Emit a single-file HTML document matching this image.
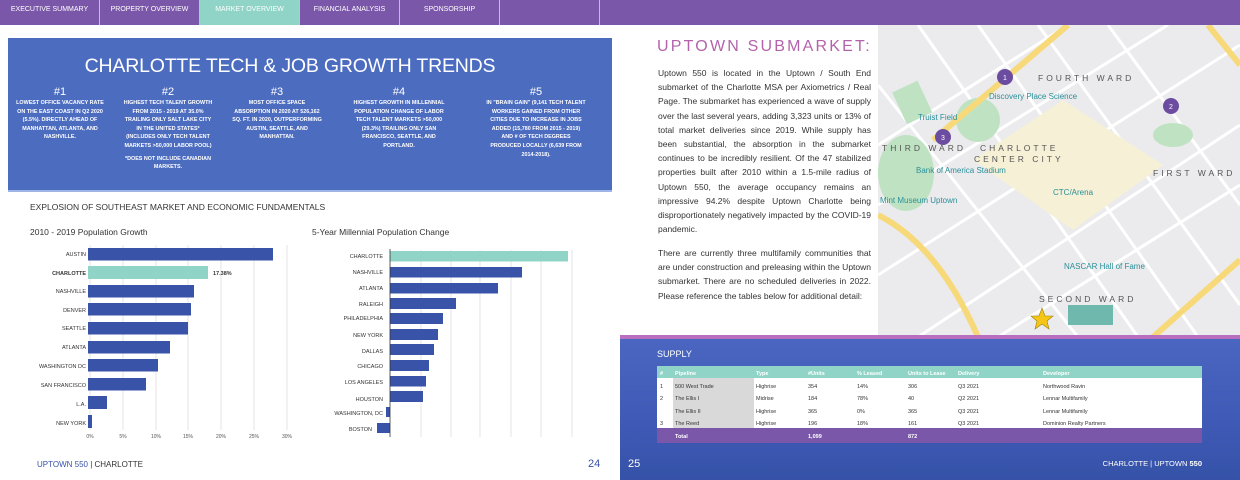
<!DOCTYPE html>
<html><head><meta charset="utf-8"><style>
*{margin:0;padding:0;box-sizing:border-box}
body{width:1240px;height:480px;overflow:hidden;background:#fff;font-family:"Liberation Sans",sans-serif;position:relative}
.a{position:absolute}
.nav{left:0;top:0;width:1240px;height:25px;background:#7a57a8}
.tab{top:0;height:25px;width:100px;color:#fff;font-size:7px;text-align:center;line-height:20px;border-right:1px solid #c9b8e0}
.box{left:8px;top:38px;width:604px;height:154px;background:#4c6cc0;border-bottom:2px solid #9fb5e6}
.col{top:86px;width:92px;color:#fff;text-align:center;font-size:5.4px;line-height:8.6px;font-weight:bold}
.col b{display:block;font-size:11px;font-weight:normal;line-height:13px}
.p{left:658px;width:213px;font-size:8.5px;line-height:14.2px;color:#333;text-align:justify}
</style></head><body>
<div class="a nav"></div>
<div class="a tab" style="left:0">EXECUTIVE SUMMARY</div>
<div class="a tab" style="left:100px">PROPERTY OVERVIEW</div>
<div class="a tab" style="left:200px;background:#8fd4c6">MARKET OVERVIEW</div>
<div class="a tab" style="left:300px">FINANCIAL ANALYSIS</div>
<div class="a tab" style="left:400px">SPONSORSHIP</div>
<div class="a tab" style="left:500px"></div>

<div class="a box"></div>
<div class="a" style="left:8px;top:55px;width:564px;text-align:center;color:#fff;font-size:19.5px;letter-spacing:-0.2px">CHARLOTTE TECH &amp; JOB GROWTH TRENDS</div>
<div class="a col" style="left:14px"><b>#1</b>LOWEST OFFICE VACANCY RATE ON THE EAST COAST IN Q2 2020 (5.5%). DIRECTLY AHEAD OF MANHATTAN, ATLANTA, AND NASHVILLE.</div>
<div class="a col" style="left:122px"><b>#2</b>HIGHEST TECH TALENT GROWTH FROM 2015 - 2019 AT 35.0% TRAILING ONLY SALT LAKE CITY IN THE UNITED STATES* (INCLUDES ONLY TECH TALENT MARKETS &gt;50,000 LABOR POOL)<br><span style="display:block;margin-top:4px">*DOES NOT INCLUDE CANADIAN MARKETS.</span></div>
<div class="a col" style="left:231px"><b>#3</b>MOST OFFICE SPACE ABSORPTION IN 2020 AT 526,162 SQ. FT. IN 2020, OUTPERFORMING AUSTIN, SEATTLE, AND MANHATTAN.</div>
<div class="a col" style="left:351px;width:96px"><b>#4</b>HIGHEST GROWTH IN MILLENNIAL POPULATION CHANGE OF LABOR TECH TALENT MARKETS &gt;50,000 (29.3%) TRAILING ONLY SAN FRANCISCO, SEATTLE, AND PORTLAND.</div>
<div class="a col" style="left:486px;width:100px"><b>#5</b>IN "BRAIN GAIN" (9,141 TECH TALENT WORKERS GAINED FROM OTHER CITIES DUE TO INCREASE IN JOBS ADDED (15,780 FROM 2015 - 2019) AND # OF TECH DEGREES PRODUCED LOCALLY (6,639 FROM 2014-2018).</div>

<div class="a" style="left:30px;top:202px;font-size:8.5px;color:#333">EXPLOSION OF SOUTHEAST MARKET AND ECONOMIC FUNDAMENTALS</div>
<div class="a" style="left:30px;top:227px;font-size:8.5px;color:#333">2010 - 2019 Population Growth</div>
<div class="a" style="left:312px;top:227px;font-size:8.5px;color:#333">5-Year Millennial Population Change</div>

<svg class="a" style="left:0;top:0" width="620" height="480" font-family="Liberation Sans, sans-serif">
<g stroke="#ddd" stroke-width="0.8">
<line x1="90" y1="245" x2="90" y2="430"/><line x1="123" y1="245" x2="123" y2="430"/><line x1="156" y1="245" x2="156" y2="430"/><line x1="188" y1="245" x2="188" y2="430"/><line x1="221" y1="245" x2="221" y2="430"/><line x1="254" y1="245" x2="254" y2="430"/><line x1="287" y1="245" x2="287" y2="430"/>
<line x1="421" y1="250" x2="421" y2="437"/><line x1="451" y1="250" x2="451" y2="437"/><line x1="480" y1="250" x2="480" y2="437"/><line x1="511" y1="250" x2="511" y2="437"/><line x1="541" y1="250" x2="541" y2="437"/><line x1="572" y1="250" x2="572" y2="437"/>
</g>
<g fill="#3853a8">
<rect x="88" y="248" width="185" height="12.5"/>
<rect x="88" y="285" width="106" height="12.5"/>
<rect x="88" y="303" width="103" height="12.5"/>
<rect x="88" y="322" width="100" height="12.5"/>
<rect x="88" y="341" width="82" height="12.5"/>
<rect x="88" y="359" width="70" height="12.5"/>
<rect x="88" y="378" width="58" height="12.5"/>
<rect x="88" y="396" width="19" height="13"/>
<rect x="88" y="415" width="4" height="13"/>
<rect x="390" y="267" width="132" height="10.5"/>
<rect x="390" y="283" width="108" height="10.5"/>
<rect x="390" y="298" width="66" height="11"/>
<rect x="390" y="313" width="53" height="11"/>
<rect x="390" y="329" width="48" height="11"/>
<rect x="390" y="344" width="44" height="11"/>
<rect x="390" y="360" width="39" height="11"/>
<rect x="390" y="376" width="36" height="10.5"/>
<rect x="390" y="391" width="33" height="11"/>
<rect x="386" y="407" width="4" height="10"/>
<rect x="377" y="423" width="13" height="10"/>
</g>
<rect x="88" y="266" width="120" height="13" fill="#8fd4c6"/>
<rect x="390" y="251" width="178" height="10.5" fill="#8fd4c6"/>
<line x1="390" y1="249" x2="390" y2="437" stroke="#333" stroke-width="0.8"/>
<g font-size="5.5" fill="#333" text-anchor="end">
<text x="86" y="256">AUSTIN</text><text x="86" y="275" font-weight="bold">CHARLOTTE</text><text x="86" y="293">NASHVILLE</text><text x="86" y="312">DENVER</text><text x="86" y="330">SEATTLE</text><text x="86" y="349">ATLANTA</text><text x="86" y="368">WASHINGTON DC</text><text x="86" y="387">SAN FRANCISCO</text><text x="86" y="406">L.A.</text><text x="86" y="425">NEW YORK</text>
<text x="383" y="258">CHARLOTTE</text><text x="383" y="274">NASHVILLE</text><text x="383" y="290">ATLANTA</text><text x="383" y="306">RALEIGH</text><text x="383" y="320">PHILADELPHIA</text><text x="383" y="337">NEW YORK</text><text x="383" y="353">DALLAS</text><text x="383" y="368">CHICAGO</text><text x="383" y="384">LOS ANGELES</text><text x="383" y="401">HOUSTON</text><text x="383" y="415">WASHINGTON, DC</text><text x="372" y="431">BOSTON</text>
</g>
<text x="213" y="275" font-size="5.5" font-weight="bold" fill="#333">17.38%</text>
<g font-size="5" fill="#555" text-anchor="middle">
<text x="90" y="438">0%</text><text x="123" y="438">5%</text><text x="156" y="438">10%</text><text x="188" y="438">15%</text><text x="221" y="438">20%</text><text x="254" y="438">25%</text><text x="287" y="438">30%</text>
</g>
<text x="37" y="467" font-size="8" fill="#3853a8">UPTOWN 550 <tspan fill="#333">| CHARLOTTE</tspan></text>
<text x="588" y="467" font-size="11" fill="#3853a8">24</text>
</svg>

<div class="a" style="left:657px;top:38px;font-size:16px;letter-spacing:2.2px;color:#b463ab;white-space:nowrap">UPTOWN SUBMARKET:</div>
<div class="a p" style="top:66px">Uptown 550 is located in the Uptown / South End submarket of the Charlotte MSA per Axiometrics / Real Page. The submarket has experienced a wave of supply over the last several years, adding 3,323 units or 13% of total market deliveries since 2019. While supply has been substantial, the absorption in the submarket continues to be incredibly resilient. Of the 47 stabilized properties built after 2010 within a 1.5-mile radius of Uptown 550, the average occupancy remains an impressive 94.2% despite Uptown Charlotte being disproportionately negatively impacted by the COVID-19 pandemic.</div>
<div class="a p" style="top:246px">There are currently three multifamily communities that are under construction and preleasing within the Uptown submarket. There are no scheduled deliveries in 2022. Please reference the tables below for additional detail:</div>

<svg class="a" style="left:878px;top:25px" width="362" height="312" font-family="Liberation Sans, sans-serif">
<rect width="362" height="312" fill="#ebebed"/>
<g stroke="#fff" stroke-width="3">
<line x1="0" y1="60" x2="200" y2="312"/><line x1="40" y1="0" x2="260" y2="312"/><line x1="100" y1="0" x2="320" y2="312"/><line x1="160" y1="0" x2="362" y2="280"/><line x1="230" y1="0" x2="362" y2="180"/>
<line x1="0" y1="250" x2="362" y2="20"/><line x1="40" y1="312" x2="362" y2="100"/><line x1="120" y1="312" x2="362" y2="160"/><line x1="0" y1="180" x2="290" y2="0"/><line x1="0" y1="120" x2="190" y2="0"/>
</g>
<polygon points="95,135 185,75 285,140 195,205" fill="#f6f0d6"/>
<g fill="#bfe3c2"><ellipse cx="28" cy="148" rx="28" ry="38"/><ellipse cx="100" cy="95" rx="22" ry="22"/><rect x="20" y="60" width="28" height="35" transform="rotate(-25 34 77)"/><ellipse cx="295" cy="110" rx="20" ry="12"/></g>
<g stroke="#f7d97a" stroke-width="6" fill="none">
<path d="M0 190 Q60 220 100 312"/><path d="M55 115 L190 0"/><path d="M330 0 L362 40"/><path d="M275 312 L362 235"/>
</g>
<g fill="#555" font-size="8.5" letter-spacing="3"><text x="160" y="56">FOURTH WARD</text><text x="4" y="126">THIRD WARD</text><text x="102" y="126">CHARLOTTE</text><text x="96" y="137">CENTER CITY</text><text x="275" y="151">FIRST WARD</text><text x="161" y="277">SECOND WARD</text></g>
<g fill="#2a8f99" font-size="8"><text x="111" y="74">Discovery Place Science</text><text x="40" y="95">Truist Field</text><text x="38" y="148">Bank of America Stadium</text><text x="2" y="178">Mint Museum Uptown</text><text x="175" y="170">CTC/Arena</text><text x="186" y="244">NASCAR Hall of Fame</text></g>
<g fill="#6b4ca0"><circle cx="127" cy="52" r="8"/><circle cx="293" cy="81" r="8"/><circle cx="65" cy="112" r="8"/></g>
<g fill="#fff" font-size="7" text-anchor="middle"><text x="127" y="55">1</text><text x="293" y="84">2</text><text x="65" y="115">3</text></g>
<polygon points="164,283 167,291 175,291 169,296 171,304 164,299 157,304 159,296 153,291 161,291" fill="#f5c518" stroke="#a08000" stroke-width="0.6"/>
<rect x="190" y="280" width="45" height="20" fill="#6fb8ad"/>
</svg>

<div class="a" style="left:620px;top:335px;width:620px;height:145px;background:linear-gradient(180deg,#4a66c0 0%,#3f5ab6 60%,#3552a8 100%);border-top:4px solid #b86fc0"></div>
<div class="a" style="left:657px;top:349px;color:#fff;font-size:9px">SUPPLY</div>
<svg class="a" style="left:620px;top:335px" width="620" height="145" font-family="Liberation Sans, sans-serif">
<rect x="37" y="31" width="545" height="12" fill="#8fd4c6"/>
<rect x="37" y="43" width="545" height="50" fill="#fff"/>
<rect x="53" y="43" width="81" height="50" fill="#d9d9d9"/>
<rect x="37" y="93" width="545" height="15" fill="#7a57a8"/>
<g fill="#fff" font-size="5.5" font-weight="bold"><text x="40" y="40">#</text><text x="55" y="40">Pipeline</text><text x="136" y="40">Type</text><text x="188" y="40">#Units</text><text x="237" y="40">% Leased</text><text x="288" y="40">Units to Lease</text><text x="338" y="40">Delivery</text><text x="423" y="40">Developer</text>
<text x="55" y="103">Total</text><text x="188" y="103">1,099</text><text x="288" y="103">872</text></g>
<g fill="#333" font-size="5.5">
<text x="40" y="53">1</text><text x="55" y="53">500 West Trade</text><text x="136" y="53">Highrise</text><text x="188" y="53">354</text><text x="237" y="53">14%</text><text x="288" y="53">306</text><text x="338" y="53">Q3 2021</text><text x="423" y="53">Northwood Ravin</text>
<text x="40" y="65">2</text><text x="55" y="65">The Ellis I</text><text x="136" y="65">Midrise</text><text x="188" y="65">184</text><text x="237" y="65">78%</text><text x="288" y="65">40</text><text x="338" y="65">Q2 2021</text><text x="423" y="65">Lennar Multifamily</text>
<text x="55" y="78">The Ellis II</text><text x="136" y="78">Highrise</text><text x="188" y="78">365</text><text x="237" y="78">0%</text><text x="288" y="78">365</text><text x="338" y="78">Q3 2021</text><text x="423" y="78">Lennar Multifamily</text>
<text x="40" y="90">3</text><text x="55" y="90">The Reed</text><text x="136" y="90">Highrise</text><text x="188" y="90">196</text><text x="237" y="90">18%</text><text x="288" y="90">161</text><text x="338" y="90">Q3 2021</text><text x="423" y="90">Dominion Realty Partners</text>
</g>
<text x="8" y="132" fill="#fff" font-size="11">25</text>
<text x="582" y="131" fill="#fff" font-size="7.5" text-anchor="end">CHARLOTTE | UPTOWN <tspan font-weight="bold">550</tspan></text>
</svg>
</body></html>
